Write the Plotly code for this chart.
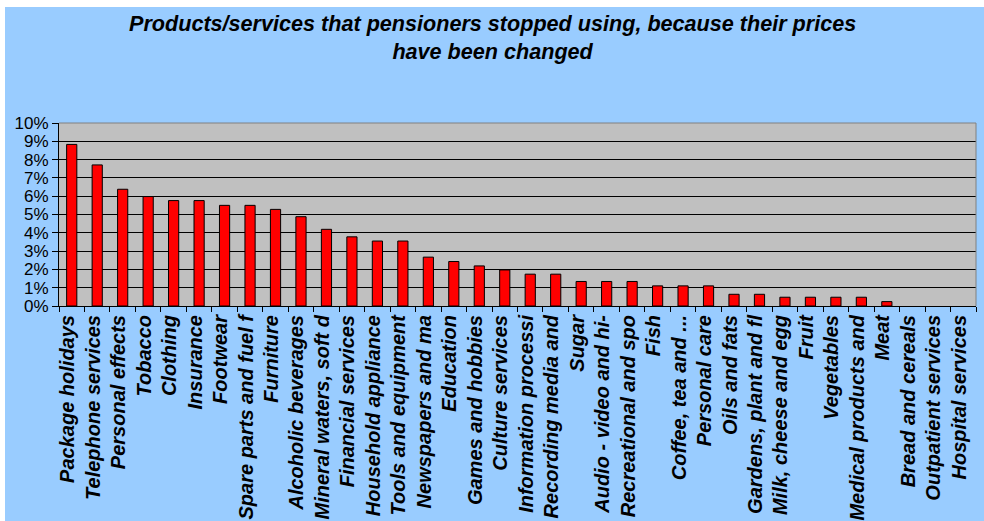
import plotly.graph_objects as go

# Share of pensioners who stopped using each product/service (%)
categories = [
    "Package holidays", "Telephone services", "Personal effects", "Tobacco",
    "Clothing", "Insurance", "Footwear", "Spare parts and fuel f",
    "Furniture", "Alcoholic beverages", "Mineral waters, soft d",
    "Financial services", "Household appliance", "Tools and equipment",
    "Newspapers and ma", "Education", "Games and hobbies", "Culture services",
    "Information processi", "Recording media and", "Sugar",
    "Audio - video and hi-", "Recreational and spo", "Fish",
    "Coffee, tea and ...", "Personal care", "Oils and fats",
    "Gardens, plant and fl", "Milk, cheese and egg", "Fruit", "Vegetables",
    "Medical products and", "Meat", "Bread and cereals",
    "Outpatient services", "Hospital services",
]
shares = [
    8.83, 7.71, 6.38, 5.98, 5.76, 5.76, 5.50, 5.50, 5.28, 4.88, 4.19, 3.78,
    3.55, 3.55, 2.67, 2.43, 2.19, 1.97, 1.74, 1.74, 1.34, 1.34, 1.34, 1.10,
    1.10, 1.10, 0.64, 0.64, 0.48, 0.48, 0.48, 0.48, 0.24, 0.0, 0.0, 0.0,
]
y_ticks = list(range(0, 11))
title_text = (
    "Products/services that pensioners stopped using, because their prices"
    "<br>have been changed"
)

W, H = 984, 521
L, R, T, B = 59, 8, 123, 215
pw, ph = W - L - R, H - T - B

font_family = "Liberation Sans, Arial, sans-serif"

fig = go.Figure(
    go.Bar(
        x=categories,
        y=shares,
        width=0.4,
        marker=dict(
            color="#FF0000",
            # no outline on empty bars, so nothing is drawn for a zero share
            line=dict(color="#000000", width=[1 if v > 0 else 0 for v in shares]),
        ),
        hoverinfo="x+y",
    )
)

fig.update_layout(
    width=W,
    height=H,
    margin=dict(l=L, r=R, t=T, b=B, autoexpand=False),
    paper_bgcolor="#99CCFF",
    plot_bgcolor="#C0C0C0",
    showlegend=False,
    xaxis=dict(
        type="category",
        range=[-0.5, len(categories) - 0.5],
        automargin=False,
        showline=True,
        linecolor="#000000",
        linewidth=1,
        ticks="outside",
        ticklen=5,
        tickcolor="#000000",
        tickson="boundaries",
        tickangle=-90,
        ticklabelshift=-4,
        showgrid=False,
        tickfont=dict(family=font_family, size=20, color="#000000", weight="bold", style="italic"),
    ),
    yaxis=dict(
        range=[0, 10],
        automargin=False,
        tickvals=y_ticks,
        ticktext=[f"{v}%" for v in y_ticks],
        showline=True,
        linecolor="#000000",
        linewidth=1,
        ticks="outside",
        ticklen=6,
        tickcolor="#000000",
        showgrid=True,
        gridcolor="#000000",
        gridwidth=1,
        zeroline=False,
        tickfont=dict(family=font_family, size=17, color="#000000"),
    ),
    annotations=[
        dict(
            text=title_text,
            xref="paper", yref="paper",
            x=(492 - L) / pw, y=1 + (T - 9) / ph,
            xanchor="center", yanchor="top",
            showarrow=False,
            align="center",
            font=dict(family=font_family, size=21.6, color="#000000", weight="bold", style="italic"),
        )
    ],
    shapes=[
        # thin white strips along the top and left edges of the page
        dict(type="rect", xref="paper", yref="paper", layer="below",
             x0=-L / pw, x1=(W - L) / pw, y0=1 + (T - 7) / ph, y1=1 + T / ph,
             fillcolor="#FFFFFF", line=dict(width=0)),
        dict(type="rect", xref="paper", yref="paper", layer="below",
             x0=-L / pw, x1=(5 - L) / pw, y0=-B / ph, y1=1 + T / ph,
             fillcolor="#FFFFFF", line=dict(width=0)),
        # grey frame on the top and right edges of the plot area
        dict(type="line", xref="paper", yref="paper", x0=0, x1=1, y0=1, y1=1,
             line=dict(color="#808080", width=1)),
        dict(type="line", xref="paper", yref="paper", x0=1, x1=1, y0=0, y1=1,
             line=dict(color="#808080", width=1)),
    ],
)

fig.write_html("out.html")
